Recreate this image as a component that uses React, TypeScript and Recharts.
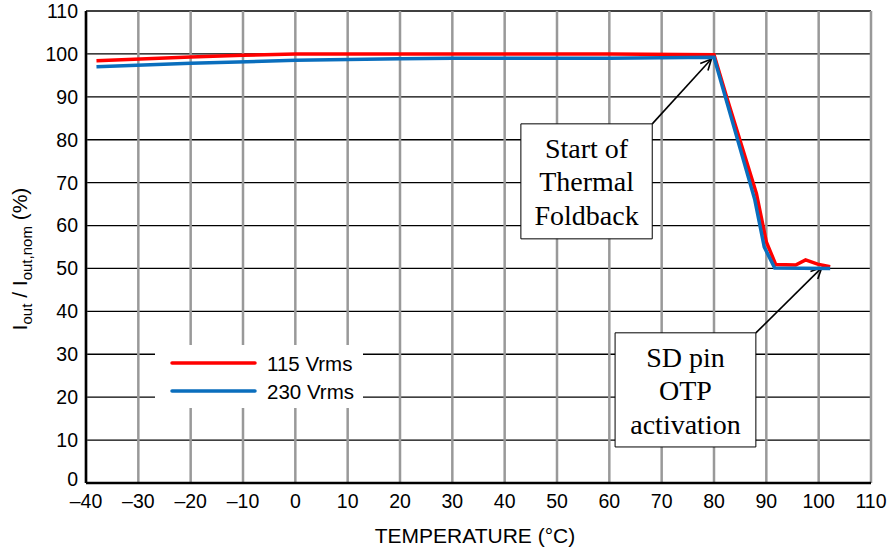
import React from "react";
import {
  LineChart,
  Line,
  XAxis,
  YAxis,
  CartesianGrid,
  Legend,
  ReferenceArea,
  ReferenceLine,
} from "recharts";

// Series data
const temp115 = [-38, -20, -10, 0, 60, 80, 82.4, 88.1, 90, 91.8, 95.6, 97.5, 99.8, 102.2];
const iout115 = [98.4, 99.3, 99.7, 100, 100, 99.8, 90, 67.5, 56.2, 50.9, 50.8, 52, 51, 50.4];
const temp230 = [-38, -20, 0, 20, 30, 60, 80, 87.8, 89.6, 91.6, 102.2];
const iout230 = [97.0, 97.8, 98.5, 98.9, 99, 99, 99.2, 66, 55, 50.1, 50];

const xTicks = [-40, -30, -20, -10, 0, 10, 20, 30, 40, 50, 60, 70, 80, 90, 100, 110];
const yTicks = [0, 10, 20, 30, 40, 50, 60, 70, 80, 90, 100, 110];

const seriesNames = ["115 Vrms", "230 Vrms"];
const seriesColors = ["#ff0000", "#0a6ebd"];

// Annotations (data coordinates)
const note1Lines = ["Start of", "Thermal", "Foldback"];
const note1Box = { x1: 43.1, x2: 68.2, y1: 56.9, y2: 83.7 };
const note1Arrow = [{ x: 68.2, y: 83.7 }, { x: 79.5, y: 98.8 }];
const note2Lines = ["SD pin", "OTP", "activation"];
const note2Box = { x1: 61.1, x2: 88.0, y1: 8.4, y2: 35.0 };
const note2Arrow = [{ x: 88.0, y: 35.0 }, { x: 100.6, y: 50.2 }];

const data115 = temp115.map((t, i) => ({ t, v: iout115[i] }));
const data230 = temp230.map((t, i) => ({ t, v: iout230[i] }));

const SANS = "'Liberation Sans', Arial, sans-serif";
const SERIF = "'Liberation Serif', 'Times New Roman', serif";

const fmt = (v: number) => (v < 0 ? "\u2013" + Math.abs(v) : String(v));

const YTick = (props: any) => {
  const { x, y, payload } = props;
  const v = payload && payload.value;
  const shift = v === 0 ? -4 : 0;
  return (
    <text
      x={x}
      y={y + shift}
      dy="0.355em"
      textAnchor="end"
      fontFamily={SANS}
      fontSize={19.5}
      fill="#000"
    >
      {fmt(v)}
    </text>
  );
};

const Arrow = (props: any) => {
  const { x1, y1, x2, y2 } = props;
  if ([x1, y1, x2, y2].some((v) => typeof v !== "number" || isNaN(v))) return null;
  const ang = Math.atan2(y2 - y1, x2 - x1);
  const L = 12;
  const spread = 0.45;
  const ax = x2 - L * Math.cos(ang - spread);
  const ay = y2 - L * Math.sin(ang - spread);
  const bx = x2 - L * Math.cos(ang + spread);
  const by = y2 - L * Math.sin(ang + spread);
  return (
    <g>
      <line x1={x1} y1={y1} x2={x2} y2={y2} stroke="#000" strokeWidth={1.6} />
      <polyline
        points={`${ax},${ay} ${x2},${y2} ${bx},${by}`}
        fill="none"
        stroke="#000"
        strokeWidth={1.6}
      />
    </g>
  );
};

const BoxLabel = (props: any) => {
  const vb = props.viewBox || {};
  const lines: string[] = props.lines || [];
  const cx = vb.x + vb.width / 2;
  return (
    <text textAnchor="middle" fontFamily={SERIF} fontSize={28} fill="#000">
      {lines.map((s, i) => (
        <tspan key={i} x={cx} y={vb.y + 34 + i * 33.5}>
          {s}
        </tspan>
      ))}
    </text>
  );
};

const LegendContent = () => (
  <svg width={208} height={63} style={{ display: "block" }}>
    {seriesNames.map((n, i) => (
      <g key={n}>
        <line
          x1={17}
          x2={100}
          y1={18 + i * 28}
          y2={18 + i * 28}
          stroke={seriesColors[i]}
          strokeWidth={3.5}
          strokeLinecap="round"
        />
        <text x={112} y={25.5 + i * 28} fontFamily={SANS} fontSize={20.5} fill="#000">
          {n}
        </text>
      </g>
    ))}
  </svg>
);

export default function App() {
  return (
    <div style={{ position: "absolute", left: 0, top: 0, width: 893, height: 550, background: "#fff" }}>
      <LineChart
        width={893}
        height={550}
        margin={{ top: 11, right: 22, bottom: 37, left: 26 }}
      >
        <CartesianGrid horizontal={true} vertical={false} stroke="#000" strokeWidth={1.3} />
        <CartesianGrid horizontal={false} vertical={true} stroke="#999" strokeWidth={2.5} />
        <XAxis
          dataKey="t"
          type="number"
          domain={[-40, 110]}
          ticks={xTicks}
          tickFormatter={fmt}
          allowDataOverflow
          height={30}
          tickLine={false}
          tickMargin={5}
          axisLine={{ stroke: "#000", strokeWidth: 2.5 }}
          tick={{ fill: "#000", fontSize: 19.5, fontFamily: SANS }}
          interval={0}
        />
        <XAxis
          xAxisId="top"
          orientation="top"
          type="number"
          domain={[-40, 110]}
          height={0}
          tick={false}
          tickLine={false}
          axisLine={{ stroke: "#000", strokeWidth: 2.5 }}
        />
        <YAxis
          type="number"
          domain={[0, 110]}
          ticks={yTicks}
          width={60}
          tickLine={false}
          tickMargin={2}
          axisLine={{ stroke: "#000", strokeWidth: 2.5 }}
          tick={<YTick />}
          interval={0}
        />
        <YAxis
          yAxisId="right"
          orientation="right"
          type="number"
          domain={[0, 110]}
          width={0}
          tick={false}
          tickLine={false}
          axisLine={{ stroke: "#000", strokeWidth: 2.5 }}
        />
        <ReferenceArea
          x1={note1Box.x1}
          x2={note1Box.x2}
          y1={note1Box.y1}
          y2={note1Box.y2}
          fill="#fff"
          fillOpacity={1}
          stroke="#000"
          strokeWidth={1}
          label={<BoxLabel lines={note1Lines} />}
        />
        <ReferenceArea
          x1={note2Box.x1}
          x2={note2Box.x2}
          y1={note2Box.y1}
          y2={note2Box.y2}
          fill="#fff"
          fillOpacity={1}
          stroke="#000"
          strokeWidth={1}
          label={<BoxLabel lines={note2Lines} />}
        />
        <ReferenceLine segment={note1Arrow} shape={Arrow} />
        <ReferenceLine segment={note2Arrow} shape={Arrow} />
        <Line
          data={data115}
          dataKey="v"
          name={seriesNames[0]}
          stroke={seriesColors[0]}
          strokeWidth={3.5}
          dot={false}
          activeDot={false}
          type="linear"
          isAnimationActive={false}
        />
        <Line
          data={data230}
          dataKey="v"
          name={seriesNames[1]}
          stroke={seriesColors[1]}
          strokeWidth={3.5}
          dot={false}
          activeDot={false}
          type="linear"
          isAnimationActive={false}
        />
        <Legend
          layout="vertical"
          align="center"
          verticalAlign="middle"
          content={<LegendContent />}
          wrapperStyle={{ left: 155, top: 345, width: 208, height: 63, background: "#fff", margin: 0 }}
        />
      </LineChart>
      <svg
        width={893}
        height={550}
        style={{ position: "absolute", left: 0, top: 0, pointerEvents: "none" }}
      >
        <text
          transform="rotate(-90)"
          x={-259}
          y={27}
          textAnchor="middle"
          fontFamily={SANS}
          fontSize={21}
          fill="#000"
        >
          I<tspan dy={5} fontSize={15}>out</tspan>
          <tspan dy={-5}> / I</tspan>
          <tspan dy={5} fontSize={15}>out,nom</tspan>
          <tspan dy={-5}> (%)</tspan>
        </text>
        <text x={475} y={543} textAnchor="middle" fontFamily={SANS} fontSize={21} fill="#000">
          TEMPERATURE (°C)
        </text>
      </svg>
    </div>
  );
}
